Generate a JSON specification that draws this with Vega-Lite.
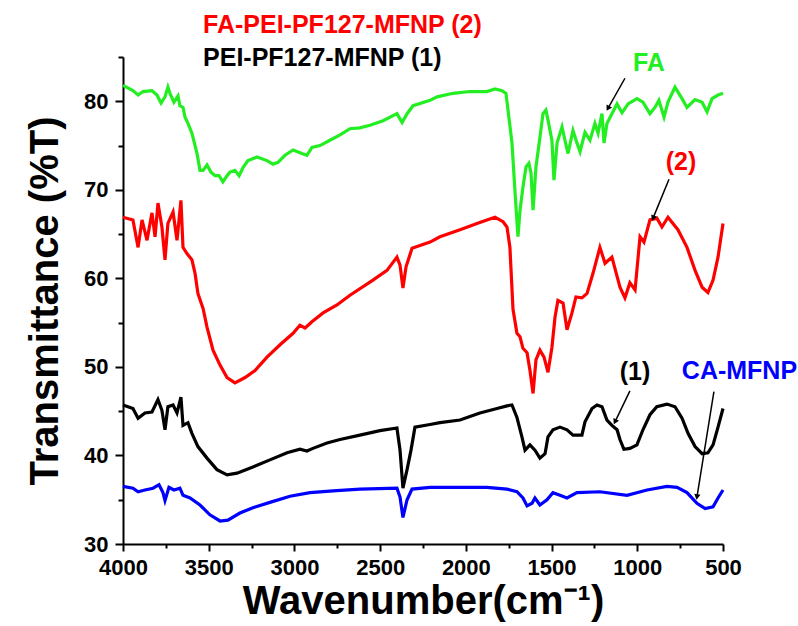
{
"$schema":"https://vega.github.io/schema/vega-lite/v6.json",
"width":600,"height":487,"autosize":"none",
"padding":{"left":123,"top":57,"right":75,"bottom":82},
"background":"white",
"config":{"view":{"stroke":null},
"axis":{"grid":false,"domainColor":"black","domainWidth":2,"tickColor":"black","tickWidth":2,
"labelFont":"Liberation Sans","labelFontWeight":"bold","labelFontSize":22,"labelColor":"black",
"titleFont":"Liberation Sans","titleFontWeight":"bold","titleFontSize":40,"titleColor":"black"},
"text":{"font":"Liberation Sans","fontWeight":"bold","fontSize":25}},
"datasets":{
"spectra":[
{"s":"FA","x":4000,"y":81.8},{"s":"FA","x":3942,"y":81.2},{"s":"FA","x":3912,"y":80.7},{"s":"FA","x":3883,"y":81.1},{"s":"FA","x":3831,"y":81.2},{"s":"FA","x":3802,"y":80.7},{"s":"FA","x":3778,"y":79.8},{"s":"FA","x":3755,"y":80.5},{"s":"FA","x":3738,"y":81.6},{"s":"FA","x":3726,"y":80.9},{"s":"FA","x":3703,"y":79.9},{"s":"FA","x":3679,"y":80.6},{"s":"FA","x":3668,"y":79.5},{"s":"FA","x":3650,"y":79.3},{"s":"FA","x":3638,"y":78.2},{"s":"FA","x":3621,"y":77.5},{"s":"FA","x":3598,"y":76.4},{"s":"FA","x":3568,"y":74.1},{"s":"FA","x":3551,"y":72.2},{"s":"FA","x":3533,"y":72.2},{"s":"FA","x":3510,"y":72.8},{"s":"FA","x":3487,"y":72.0},{"s":"FA","x":3463,"y":71.6},{"s":"FA","x":3440,"y":71.6},{"s":"FA","x":3417,"y":70.9},{"s":"FA","x":3393,"y":71.6},{"s":"FA","x":3376,"y":72.0},{"s":"FA","x":3347,"y":72.2},{"s":"FA","x":3323,"y":71.6},{"s":"FA","x":3300,"y":72.5},{"s":"FA","x":3271,"y":73.3},{"s":"FA","x":3218,"y":73.7},{"s":"FA","x":3160,"y":73.3},{"s":"FA","x":3125,"y":72.9},{"s":"FA","x":3096,"y":73.1},{"s":"FA","x":3055,"y":73.9},{"s":"FA","x":3008,"y":74.5},{"s":"FA","x":2956,"y":74.1},{"s":"FA","x":2927,"y":73.9},{"s":"FA","x":2898,"y":74.8},{"s":"FA","x":2851,"y":75.0},{"s":"FA","x":2793,"y":75.6},{"s":"FA","x":2734,"y":76.2},{"s":"FA","x":2676,"y":76.9},{"s":"FA","x":2618,"y":77.0},{"s":"FA","x":2559,"y":77.3},{"s":"FA","x":2483,"y":77.8},{"s":"FA","x":2402,"y":78.6},{"s":"FA","x":2372,"y":77.6},{"s":"FA","x":2343,"y":78.6},{"s":"FA","x":2308,"y":79.5},{"s":"FA","x":2209,"y":80.1},{"s":"FA","x":2168,"y":80.5},{"s":"FA","x":2075,"y":80.9},{"s":"FA","x":1976,"y":81.1},{"s":"FA","x":1877,"y":81.1},{"s":"FA","x":1830,"y":81.4},{"s":"FA","x":1789,"y":81.2},{"s":"FA","x":1766,"y":80.9},{"s":"FA","x":1754,"y":79.0},{"s":"FA","x":1731,"y":75.3},{"s":"FA","x":1713,"y":69.7},{"s":"FA","x":1696,"y":64.7},{"s":"FA","x":1684,"y":67.7},{"s":"FA","x":1667,"y":70.3},{"s":"FA","x":1649,"y":72.6},{"s":"FA","x":1632,"y":73.0},{"s":"FA","x":1620,"y":71.9},{"s":"FA","x":1608,"y":67.7},{"s":"FA","x":1591,"y":72.6},{"s":"FA","x":1568,"y":75.9},{"s":"FA","x":1550,"y":78.6},{"s":"FA","x":1533,"y":79.0},{"s":"FA","x":1521,"y":77.9},{"s":"FA","x":1498,"y":75.6},{"s":"FA","x":1486,"y":71.1},{"s":"FA","x":1468,"y":75.3},{"s":"FA","x":1439,"y":77.1},{"s":"FA","x":1422,"y":75.6},{"s":"FA","x":1404,"y":74.1},{"s":"FA","x":1375,"y":76.7},{"s":"FA","x":1352,"y":75.3},{"s":"FA","x":1334,"y":74.3},{"s":"FA","x":1305,"y":76.5},{"s":"FA","x":1276,"y":75.6},{"s":"FA","x":1247,"y":77.5},{"s":"FA","x":1229,"y":76.4},{"s":"FA","x":1206,"y":78.6},{"s":"FA","x":1194,"y":75.3},{"s":"FA","x":1177,"y":77.5},{"s":"FA","x":1148,"y":78.6},{"s":"FA","x":1118,"y":79.7},{"s":"FA","x":1089,"y":78.7},{"s":"FA","x":1054,"y":79.7},{"s":"FA","x":1002,"y":80.3},{"s":"FA","x":967,"y":79.9},{"s":"FA","x":926,"y":78.6},{"s":"FA","x":897,"y":79.3},{"s":"FA","x":874,"y":80.1},{"s":"FA","x":844,"y":78.2},{"s":"FA","x":821,"y":79.9},{"s":"FA","x":780,"y":81.6},{"s":"FA","x":739,"y":80.3},{"s":"FA","x":710,"y":79.3},{"s":"FA","x":663,"y":80.2},{"s":"FA","x":622,"y":79.9},{"s":"FA","x":593,"y":78.8},{"s":"FA","x":564,"y":80.3},{"s":"FA","x":529,"y":80.7},{"s":"FA","x":500,"y":80.9},
{"s":"2","x":4000,"y":66.9},{"s":"2","x":3942,"y":66.6},{"s":"2","x":3912,"y":63.5},{"s":"2","x":3889,"y":66.6},{"s":"2","x":3860,"y":64.3},{"s":"2","x":3831,"y":67.4},{"s":"2","x":3813,"y":64.7},{"s":"2","x":3796,"y":68.5},{"s":"2","x":3773,"y":65.8},{"s":"2","x":3755,"y":62.1},{"s":"2","x":3738,"y":66.2},{"s":"2","x":3708,"y":67.5},{"s":"2","x":3685,"y":64.3},{"s":"2","x":3662,"y":68.8},{"s":"2","x":3650,"y":63.5},{"s":"2","x":3627,"y":62.8},{"s":"2","x":3598,"y":62.1},{"s":"2","x":3580,"y":60.6},{"s":"2","x":3563,"y":58.3},{"s":"2","x":3533,"y":56.6},{"s":"2","x":3510,"y":54.5},{"s":"2","x":3475,"y":51.9},{"s":"2","x":3434,"y":50.2},{"s":"2","x":3393,"y":48.8},{"s":"2","x":3347,"y":48.2},{"s":"2","x":3288,"y":48.8},{"s":"2","x":3230,"y":49.6},{"s":"2","x":3160,"y":51.1},{"s":"2","x":3084,"y":52.5},{"s":"2","x":3008,"y":53.8},{"s":"2","x":2968,"y":54.7},{"s":"2","x":2938,"y":54.4},{"s":"2","x":2898,"y":55.1},{"s":"2","x":2833,"y":56.1},{"s":"2","x":2752,"y":57.0},{"s":"2","x":2676,"y":58.1},{"s":"2","x":2542,"y":59.8},{"s":"2","x":2460,"y":60.9},{"s":"2","x":2402,"y":62.4},{"s":"2","x":2384,"y":61.5},{"s":"2","x":2367,"y":58.9},{"s":"2","x":2349,"y":61.3},{"s":"2","x":2314,"y":63.4},{"s":"2","x":2209,"y":64.1},{"s":"2","x":2151,"y":64.7},{"s":"2","x":2034,"y":65.5},{"s":"2","x":1935,"y":66.2},{"s":"2","x":1877,"y":66.6},{"s":"2","x":1830,"y":66.9},{"s":"2","x":1783,"y":66.4},{"s":"2","x":1760,"y":65.8},{"s":"2","x":1743,"y":63.5},{"s":"2","x":1725,"y":56.5},{"s":"2","x":1702,"y":53.8},{"s":"2","x":1684,"y":53.4},{"s":"2","x":1667,"y":52.1},{"s":"2","x":1643,"y":51.6},{"s":"2","x":1626,"y":49.6},{"s":"2","x":1608,"y":47.0},{"s":"2","x":1591,"y":50.8},{"s":"2","x":1568,"y":51.9},{"s":"2","x":1544,"y":51.1},{"s":"2","x":1521,"y":49.4},{"s":"2","x":1498,"y":52.2},{"s":"2","x":1480,"y":55.6},{"s":"2","x":1463,"y":57.5},{"s":"2","x":1433,"y":57.2},{"s":"2","x":1410,"y":54.2},{"s":"2","x":1381,"y":56.1},{"s":"2","x":1358,"y":57.9},{"s":"2","x":1323,"y":57.8},{"s":"2","x":1293,"y":58.3},{"s":"2","x":1258,"y":60.6},{"s":"2","x":1218,"y":63.5},{"s":"2","x":1188,"y":61.7},{"s":"2","x":1148,"y":62.4},{"s":"2","x":1101,"y":59.0},{"s":"2","x":1072,"y":57.8},{"s":"2","x":1043,"y":59.5},{"s":"2","x":1013,"y":58.7},{"s":"2","x":984,"y":64.7},{"s":"2","x":961,"y":64.1},{"s":"2","x":926,"y":66.6},{"s":"2","x":886,"y":66.8},{"s":"2","x":856,"y":65.8},{"s":"2","x":821,"y":66.9},{"s":"2","x":792,"y":66.2},{"s":"2","x":763,"y":65.5},{"s":"2","x":710,"y":63.5},{"s":"2","x":663,"y":60.9},{"s":"2","x":622,"y":59.0},{"s":"2","x":588,"y":58.4},{"s":"2","x":558,"y":59.8},{"s":"2","x":529,"y":62.4},{"s":"2","x":500,"y":66.2},
{"s":"1","x":4000,"y":45.7},{"s":"1","x":3942,"y":45.3},{"s":"1","x":3912,"y":44.2},{"s":"1","x":3872,"y":44.8},{"s":"1","x":3831,"y":44.9},{"s":"1","x":3796,"y":46.3},{"s":"1","x":3773,"y":45.1},{"s":"1","x":3755,"y":42.9},{"s":"1","x":3738,"y":45.5},{"s":"1","x":3708,"y":45.7},{"s":"1","x":3685,"y":44.8},{"s":"1","x":3662,"y":46.6},{"s":"1","x":3650,"y":43.4},{"s":"1","x":3621,"y":43.7},{"s":"1","x":3598,"y":42.5},{"s":"1","x":3563,"y":41.0},{"s":"1","x":3510,"y":39.7},{"s":"1","x":3452,"y":38.4},{"s":"1","x":3393,"y":37.8},{"s":"1","x":3335,"y":38.0},{"s":"1","x":3242,"y":38.7},{"s":"1","x":3143,"y":39.5},{"s":"1","x":3043,"y":40.3},{"s":"1","x":2968,"y":40.7},{"s":"1","x":2927,"y":40.5},{"s":"1","x":2892,"y":40.8},{"s":"1","x":2810,"y":41.4},{"s":"1","x":2734,"y":41.8},{"s":"1","x":2618,"y":42.3},{"s":"1","x":2501,"y":42.8},{"s":"1","x":2402,"y":43.1},{"s":"1","x":2384,"y":40.6},{"s":"1","x":2367,"y":36.3},{"s":"1","x":2343,"y":38.4},{"s":"1","x":2320,"y":40.6},{"s":"1","x":2297,"y":43.2},{"s":"1","x":2209,"y":43.5},{"s":"1","x":2151,"y":43.7},{"s":"1","x":2034,"y":44.0},{"s":"1","x":1918,"y":44.8},{"s":"1","x":1818,"y":45.3},{"s":"1","x":1760,"y":45.6},{"s":"1","x":1731,"y":45.7},{"s":"1","x":1702,"y":44.3},{"s":"1","x":1673,"y":42.1},{"s":"1","x":1655,"y":40.6},{"s":"1","x":1626,"y":41.2},{"s":"1","x":1597,"y":40.6},{"s":"1","x":1568,"y":39.7},{"s":"1","x":1538,"y":40.2},{"s":"1","x":1521,"y":42.1},{"s":"1","x":1492,"y":42.9},{"s":"1","x":1451,"y":43.2},{"s":"1","x":1410,"y":42.9},{"s":"1","x":1375,"y":42.3},{"s":"1","x":1323,"y":42.3},{"s":"1","x":1305,"y":43.8},{"s":"1","x":1264,"y":45.3},{"s":"1","x":1235,"y":45.7},{"s":"1","x":1206,"y":45.5},{"s":"1","x":1177,"y":44.0},{"s":"1","x":1148,"y":43.4},{"s":"1","x":1118,"y":42.9},{"s":"1","x":1101,"y":41.8},{"s":"1","x":1078,"y":40.7},{"s":"1","x":1043,"y":40.8},{"s":"1","x":1002,"y":41.2},{"s":"1","x":967,"y":42.9},{"s":"1","x":926,"y":44.6},{"s":"1","x":886,"y":45.5},{"s":"1","x":827,"y":45.8},{"s":"1","x":780,"y":45.5},{"s":"1","x":739,"y":44.2},{"s":"1","x":704,"y":42.5},{"s":"1","x":663,"y":41.0},{"s":"1","x":622,"y":40.2},{"s":"1","x":588,"y":40.3},{"s":"1","x":558,"y":41.2},{"s":"1","x":529,"y":43.2},{"s":"1","x":500,"y":45.3},
{"s":"CA","x":4000,"y":36.5},{"s":"CA","x":3942,"y":36.3},{"s":"CA","x":3912,"y":35.9},{"s":"CA","x":3872,"y":36.1},{"s":"CA","x":3825,"y":36.3},{"s":"CA","x":3790,"y":36.7},{"s":"CA","x":3767,"y":35.8},{"s":"CA","x":3755,"y":34.9},{"s":"CA","x":3732,"y":36.4},{"s":"CA","x":3703,"y":36.1},{"s":"CA","x":3668,"y":36.3},{"s":"CA","x":3650,"y":35.5},{"s":"CA","x":3609,"y":35.2},{"s":"CA","x":3551,"y":34.4},{"s":"CA","x":3493,"y":33.3},{"s":"CA","x":3434,"y":32.6},{"s":"CA","x":3388,"y":32.7},{"s":"CA","x":3318,"y":33.5},{"s":"CA","x":3242,"y":34.1},{"s":"CA","x":3143,"y":34.7},{"s":"CA","x":3026,"y":35.4},{"s":"CA","x":2909,"y":35.8},{"s":"CA","x":2775,"y":36.0},{"s":"CA","x":2618,"y":36.2},{"s":"CA","x":2402,"y":36.3},{"s":"CA","x":2384,"y":35.3},{"s":"CA","x":2367,"y":33.0},{"s":"CA","x":2343,"y":35.0},{"s":"CA","x":2314,"y":36.2},{"s":"CA","x":2209,"y":36.4},{"s":"CA","x":2075,"y":36.4},{"s":"CA","x":1877,"y":36.4},{"s":"CA","x":1760,"y":36.2},{"s":"CA","x":1702,"y":35.9},{"s":"CA","x":1667,"y":35.2},{"s":"CA","x":1643,"y":34.3},{"s":"CA","x":1614,"y":34.6},{"s":"CA","x":1597,"y":35.2},{"s":"CA","x":1568,"y":34.4},{"s":"CA","x":1527,"y":35.0},{"s":"CA","x":1492,"y":35.8},{"s":"CA","x":1451,"y":35.5},{"s":"CA","x":1410,"y":35.2},{"s":"CA","x":1352,"y":35.8},{"s":"CA","x":1218,"y":35.9},{"s":"CA","x":1060,"y":35.5},{"s":"CA","x":943,"y":36.1},{"s":"CA","x":827,"y":36.5},{"s":"CA","x":768,"y":36.4},{"s":"CA","x":710,"y":35.8},{"s":"CA","x":652,"y":34.6},{"s":"CA","x":604,"y":34.0},{"s":"CA","x":558,"y":34.2},{"s":"CA","x":529,"y":35.2},{"s":"CA","x":500,"y":36.1}
],
"legend":[{"t":"FA-PEI-PF127-MFNP (2)","s":"2","x":3533,"y":88.6},{"t":"PEI-PF127-MFNP (1)","s":"1","x":3533,"y":84.9}],
"notes":[{"t":"FA","s":"FA","x":932,"y":84.3},{"t":"(2)","s":"2","x":745,"y":73.1},{"t":"(1)","s":"1","x":1013,"y":49.4},{"t":"CA-MFNP","s":"CA","x":404,"y":49.5}],
"arrows":[{"id":"FA","x1":1072,"y1":82.6,"x2":1171,"y2":79.2},{"id":"2","x1":815,"y1":71.2,"x2":908,"y2":66.8},{"id":"1","x1":1043,"y1":47.3,"x2":1130,"y2":43.8},{"id":"CA","x1":553,"y1":47.2,"x2":652,"y2":35.3}]
},
"layer":[
{"data":{"name":"spectra"},"mark":{"type":"line","strokeWidth":3.2},
"encoding":{
"x":{"field":"x","type":"quantitative","title":"Wavenumber(cm⁻¹)","scale":{"domain":[500,4000],"reverse":true,"nice":false,"zero":false},
"axis":{"values":[500,750,1000,1250,1500,1750,2000,2250,2500,2750,3000,3250,3500,3750,4000],"format":"d","labelExpr":"datum.value % 500 === 0 ? datum.label : ''","tickSize":{"condition":{"test":"datum.value % 500 === 0","value":7},"value":4},"labelPadding":6,"titlePadding":3,"labelFlush":false,"labelOverlap":false}},
"y":{"field":"y","type":"quantitative","title":"Transmittance (%T)","scale":{"domain":[30,85],"nice":false,"zero":false},
"axis":{"values":[30,35,40,45,50,55,60,65,70,75,80,85],"labelExpr":"datum.value % 10 === 0 ? datum.label : ''","tickSize":{"condition":{"test":"datum.value % 10 === 0","value":8},"value":5},"labelPadding":7,"titlePadding":18,"labelFlush":false,"labelOverlap":false}},
"color":{"field":"s","type":"nominal","scale":{"domain":["FA","2","1","CA"],"range":["#22ee22","#ff0000","#000000","#0000ff"]},"legend":null}}},
{"data":{"name":"arrows"},"mark":{"type":"rule","color":"black","strokeWidth":1.5},
"encoding":{"x":{"field":"x1","type":"quantitative","title":"Wavenumber(cm⁻¹)"},"y":{"field":"y1","type":"quantitative","title":"Transmittance (%T)"},"x2":{"field":"x2"},"y2":{"field":"y2"}}},
{"data":{"name":"arrows"},"transform":[{"filter":"datum.id == 'FA'"}],"mark":{"type":"point","shape":"triangle-up","filled":true,"color":"black","opacity":1,"size":40,"angle":209.5},
"encoding":{"x":{"field":"x2","type":"quantitative","title":"Wavenumber(cm⁻¹)"},"y":{"field":"y2","type":"quantitative","title":"Transmittance (%T)"}}},
{"data":{"name":"arrows"},"transform":[{"filter":"datum.id == '2'"}],"mark":{"type":"point","shape":"triangle-up","filled":true,"color":"black","opacity":1,"size":40,"angle":202.3},
"encoding":{"x":{"field":"x2","type":"quantitative","title":"Wavenumber(cm⁻¹)"},"y":{"field":"y2","type":"quantitative","title":"Transmittance (%T)"}}},
{"data":{"name":"arrows"},"transform":[{"filter":"datum.id == '1'"}],"mark":{"type":"point","shape":"triangle-up","filled":true,"color":"black","opacity":1,"size":40,"angle":205.8},
"encoding":{"x":{"field":"x2","type":"quantitative","title":"Wavenumber(cm⁻¹)"},"y":{"field":"y2","type":"quantitative","title":"Transmittance (%T)"}}},
{"data":{"name":"arrows"},"transform":[{"filter":"datum.id == 'CA'"}],"mark":{"type":"point","shape":"triangle-up","filled":true,"color":"black","opacity":1,"size":40,"angle":189.2},
"encoding":{"x":{"field":"x2","type":"quantitative","title":"Wavenumber(cm⁻¹)"},"y":{"field":"y2","type":"quantitative","title":"Transmittance (%T)"}}},
{"data":{"name":"legend"},"mark":{"type":"text","align":"left","baseline":"middle"},
"encoding":{"x":{"field":"x","type":"quantitative","title":"Wavenumber(cm⁻¹)"},"y":{"field":"y","type":"quantitative","title":"Transmittance (%T)"},"text":{"field":"t"},"color":{"field":"s","type":"nominal","legend":null}}},
{"data":{"name":"notes"},"mark":{"type":"text","align":"center","baseline":"middle"},
"encoding":{"x":{"field":"x","type":"quantitative","title":"Wavenumber(cm⁻¹)"},"y":{"field":"y","type":"quantitative","title":"Transmittance (%T)"},"text":{"field":"t"},"color":{"field":"s","type":"nominal","legend":null}}}
]
}
